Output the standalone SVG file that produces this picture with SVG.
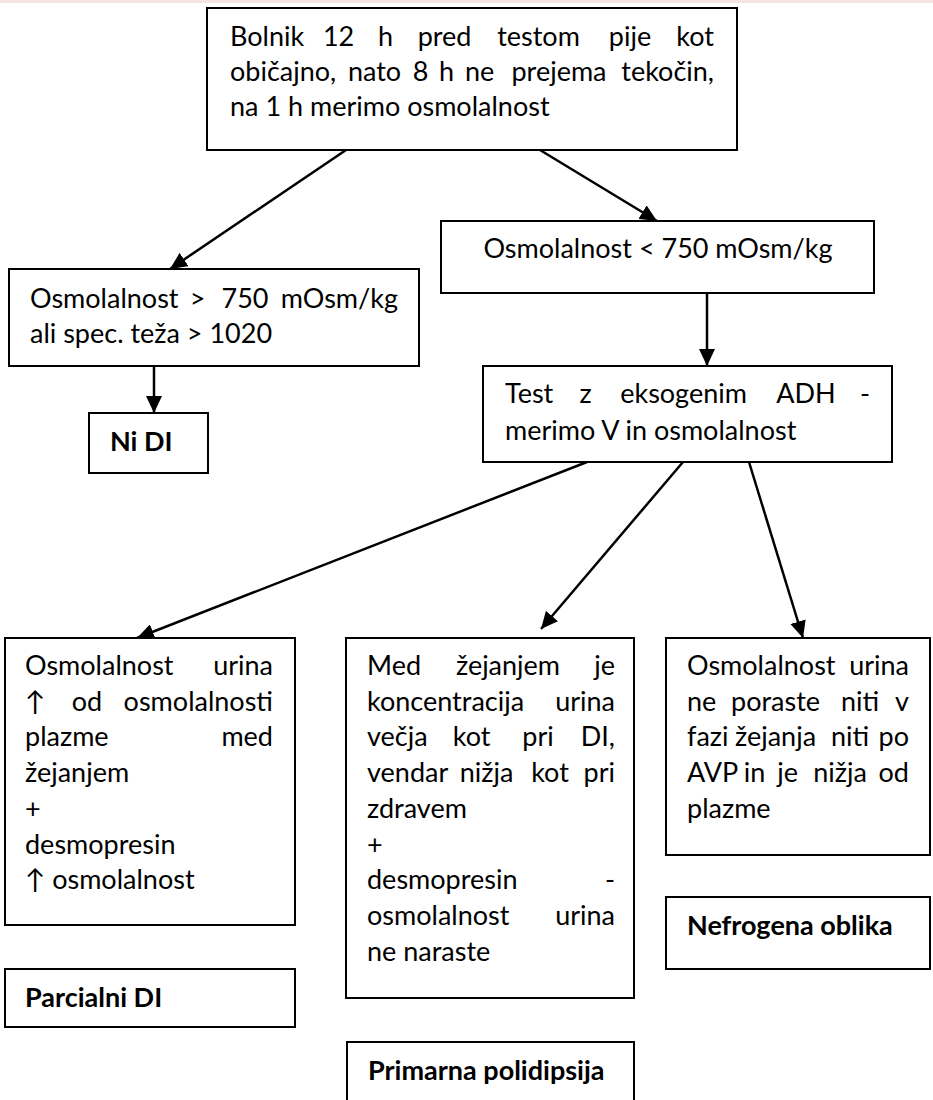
<svg xmlns="http://www.w3.org/2000/svg" width="933" height="1100" viewBox="0 0 933 1100">
  <defs>
    <style>
      .box { fill: #ffffff; stroke: #000000; stroke-width: 2; }
      .t { font-family: Lato, Carlito, "DejaVu Sans", sans-serif; font-size: 27px; fill: #000000; }
      .b { font-weight: 700; }
      .m { text-anchor: middle; }
      .e { text-anchor: end; }
      .link { fill: none; stroke: #000000; stroke-width: 2.5; marker-end: url(#head); }
    </style>
    <marker id="head" markerUnits="userSpaceOnUse" markerWidth="18" markerHeight="16" refX="17" refY="8" orient="auto">
      <path d="M0,0 L17,8 L0,16 Z" fill="#000000"/>
    </marker>
  </defs>

  <rect width="933" height="1100" fill="#ffffff"/>
  <rect x="0" y="0" width="933" height="3" fill="#f5e4e4"/>

  <!-- connectors -->
  <g id="connectors">
    <line class="link" x1="346" y1="150" x2="170" y2="269"/>
    <line class="link" x1="540" y1="150" x2="657" y2="221"/>
    <line class="link" x1="154" y1="366" x2="154" y2="413"/>
    <line class="link" x1="707" y1="293" x2="707" y2="366"/>
    <line class="link" x1="587" y1="462" x2="137" y2="638"/>
    <line class="link" x1="683" y1="462" x2="541" y2="629"/>
    <line class="link" x1="749" y1="462" x2="803" y2="638"/>
  </g>

  <!-- start -->
  <g id="start">
    <rect class="box" x="207" y="8" width="530" height="142"/>
    <text class="t" y="46">
      <tspan x="230">Bolnik</tspan>
      <tspan class="m" x="342">12</tspan>
      <tspan class="m" x="389">h</tspan>
      <tspan class="m" x="448">pred</tspan>
      <tspan class="m" x="542">testom</tspan>
      <tspan class="m" x="630">pije</tspan>
    </text>
    <text class="t e" x="714" y="46">kot</text>
    <text class="t" y="81">
      <tspan x="230">običajno,</tspan>
      <tspan class="m" x="378">nato</tspan>
      <tspan class="m" x="424">8</tspan>
      <tspan class="m" x="450">h</tspan>
      <tspan class="m" x="483">ne</tspan>
      <tspan class="m" x="559">prejema</tspan>
    </text>
    <text class="t e" x="714" y="81">tekočin,</text>
    <text class="t" x="230" y="116">na 1 h merimo osmolalnost</text>
  </g>

  <!-- high osmolality -->
  <g id="high">
    <rect class="box" x="9" y="269" width="410" height="97"/>
    <text class="t" y="308">
      <tspan x="30">Osmolalnost</tspan>
      <tspan class="m" x="201">&gt;</tspan>
      <tspan class="m" x="245">750</tspan>
    </text>
    <text class="t e" x="398" y="308">mOsm/kg</text>
    <text class="t" x="30" y="343">ali spec. teža &gt; 1020</text>
  </g>

  <g id="ni-di">
    <rect class="box" x="89" y="413" width="119" height="60"/>
    <text class="t b" x="110" y="451">Ni DI</text>
  </g>

  <!-- low osmolality -->
  <g id="low">
    <rect class="box" x="441" y="221" width="433" height="72"/>
    <text class="t m" x="658" y="258">Osmolalnost &lt; 750 mOsm/kg</text>
  </g>

  <g id="adh-test">
    <rect class="box" x="483" y="366" width="409" height="96"/>
    <text class="t" y="403">
      <tspan x="505">Test</tspan>
      <tspan class="m" x="589">z</tspan>
      <tspan class="m" x="687">eksogenim</tspan>
      <tspan class="m" x="806">ADH</tspan>
    </text>
    <text class="t e" x="870" y="403">-</text>
    <text class="t" x="505" y="440">merimo V in osmolalnost</text>
  </g>

  <!-- partial DI -->
  <g id="partial">
    <rect class="box" x="5" y="638" width="290" height="287"/>
    <text class="t" x="25" y="675">Osmolalnost</text>
    <text class="t e" x="273" y="675">urina</text>
    <text class="t" y="711">
      <tspan x="25">↑</tspan>
      <tspan class="m" x="87">od</tspan>
    </text>
    <text class="t e" x="273" y="711">osmolalnosti</text>
    <text class="t" x="25" y="746">plazme</text>
    <text class="t e" x="273" y="746">med</text>
    <text class="t" x="25" y="782">žejanjem</text>
    <text class="t" x="25" y="818">+</text>
    <text class="t" x="25" y="854">desmopresin</text>
    <text class="t" x="25" y="889">↑ osmolalnost</text>
  </g>

  <g id="partial-label">
    <rect class="box" x="5" y="969" width="290" height="58"/>
    <text class="t b" x="25" y="1007">Parcialni DI</text>
  </g>

  <!-- primary polydipsia -->
  <g id="polydipsia">
    <rect class="box" x="346" y="638" width="288" height="360"/>
    <text class="t" x="367" y="675">Med</text>
    <text class="t m" x="508" y="675">žejanjem</text>
    <text class="t e" x="615" y="675">je</text>
    <text class="t" x="367" y="711">koncentracija</text>
    <text class="t e" x="615" y="711">urina</text>
    <text class="t" y="746">
      <tspan x="367">večja</tspan>
      <tspan class="m" x="475">kot</tspan>
      <tspan class="m" x="538">pri</tspan>
    </text>
    <text class="t e" x="615" y="746">DI,</text>
    <text class="t" y="782">
      <tspan x="367">vendar</tspan>
      <tspan class="m" x="490">nižja</tspan>
      <tspan class="m" x="550">kot</tspan>
    </text>
    <text class="t e" x="615" y="782">pri</text>
    <text class="t" x="367" y="818">zdravem</text>
    <text class="t" x="367" y="854">+</text>
    <text class="t" x="367" y="889">desmopresin</text>
    <text class="t e" x="615" y="889">-</text>
    <text class="t" x="367" y="925">osmolalnost</text>
    <text class="t e" x="615" y="925">urina</text>
    <text class="t" x="367" y="961">ne naraste</text>
  </g>

  <g id="polydipsia-label">
    <rect class="box" x="347" y="1042" width="287" height="80"/>
    <text class="t b" x="368" y="1080">Primarna polidipsija</text>
  </g>

  <!-- nephrogenic DI -->
  <g id="nephrogenic">
    <rect class="box" x="666" y="638" width="264" height="217"/>
    <text class="t" x="687" y="675">Osmolalnost</text>
    <text class="t e" x="909" y="675">urina</text>
    <text class="t" y="711">
      <tspan x="687">ne</tspan>
      <tspan class="m" x="779">poraste</tspan>
      <tspan class="m" x="860">niti</tspan>
    </text>
    <text class="t e" x="909" y="711">v</text>
    <text class="t" y="746">
      <tspan x="687">fazi</tspan>
      <tspan class="m" x="779">žejanja</tspan>
      <tspan class="m" x="850">niti</tspan>
    </text>
    <text class="t e" x="909" y="746">po</text>
    <text class="t" y="782">
      <tspan x="687">AVP</tspan>
      <tspan class="m" x="758">in</tspan>
      <tspan class="m" x="791">je</tspan>
      <tspan class="m" x="840">nižja</tspan>
    </text>
    <text class="t e" x="909" y="782">od</text>
    <text class="t" x="687" y="818">plazme</text>
  </g>

  <g id="nephrogenic-label">
    <rect class="box" x="666" y="897" width="264" height="72"/>
    <text class="t b" x="687" y="935">Nefrogena oblika</text>
  </g>
</svg>
